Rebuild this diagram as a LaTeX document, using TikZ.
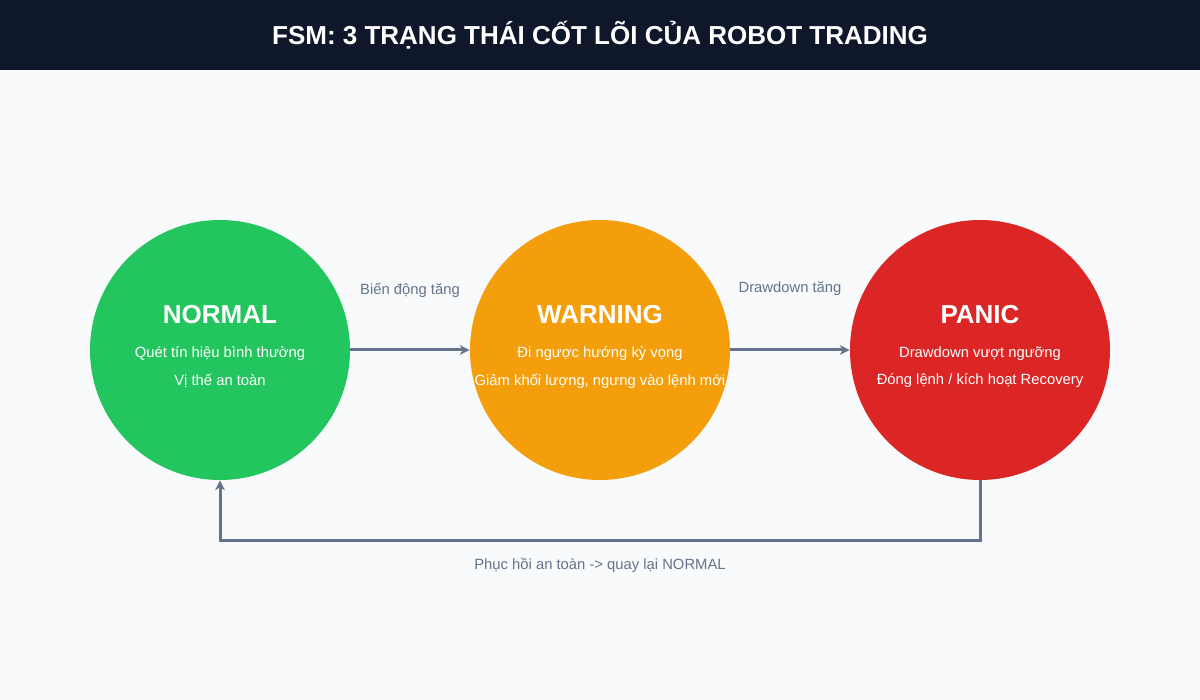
\documentclass[tikz,border=0pt]{standalone}
\usepackage{fontspec}
\setmainfont{Liberation Sans}
\usetikzlibrary{arrows.meta}
\definecolor{bg}{HTML}{F8FAFC}
\definecolor{bar}{HTML}{0F172A}
\definecolor{gr}{HTML}{64748B}
\definecolor{cg}{HTML}{22C55E}
\definecolor{co}{HTML}{F59E0B}
\definecolor{cr}{HTML}{DC2626}
\begin{document}
\begin{tikzpicture}[x=0.5pt,y=-0.5pt,
  st/.style={circle,minimum size=130pt,inner sep=0pt,draw=none},
  nm/.style={font=\bfseries\fontsize{13}{15}\selectfont,text=white},
  ln/.style={font=\fontsize{7.4}{9}\selectfont,text=white},
  lb/.style={font=\fontsize{7.4}{9}\selectfont,text=gr},
  ar/.style={draw=gr,line width=1.5pt,-{Stealth[length=5pt,width=5pt]}}]
\fill[bg] (0,0) rectangle (1200,700);
\fill[bar] (0,0) rectangle (1200,70);
\node[font=\bfseries\fontsize{13}{15}\selectfont,text=white] (title) at (600,35) {FSM: 3 TRẠNG THÁI CỐT LÕI CỦA ROBOT TRADING};
\node[st,fill=cg] (n) at (220,350) {};
\node[st,fill=co] (w) at (600,350) {};
\node[st,fill=cr] (p) at (980,350) {};
\node[nm] (n1) at (220,315) {NORMAL};
\node[ln] (n2) at (220,354) {Quét tín hiệu bình thường};
\node[ln] (n3) at (220,381) {Vị thế an toàn};
\node[nm] (w1) at (600,315) {WARNING};
\node[ln] (w2) at (600,354) {Đi ngược hướng kỳ vọng};
\node[ln] (w3) at (600,381) {Giảm khối lượng, ngưng vào lệnh mới};
\node[nm] (p1) at (980,315) {PANIC};
\node[ln] (p2) at (980,354) {Drawdown vượt ngưỡng};
\node[ln] (p3) at (980,381) {Đóng lệnh / kích hoạt Recovery};
\draw[ar] (n.east) -- (w.west);
\draw[ar] (w.east) -- (p.west);
\node[lb] (l1) at (410,290) {Biến động tăng};
\node[lb] (l2) at (790,289) {Drawdown tăng};
\coordinate (c1) at (980,540);
\coordinate (c2) at (220,540);
\draw[ar] (p.south) -- (c1) -- (c2) -- (n.south);
\node[lb] (l3) at (600,565) {Phục hồi an toàn -> quay lại NORMAL};
\end{tikzpicture}
\end{document}
